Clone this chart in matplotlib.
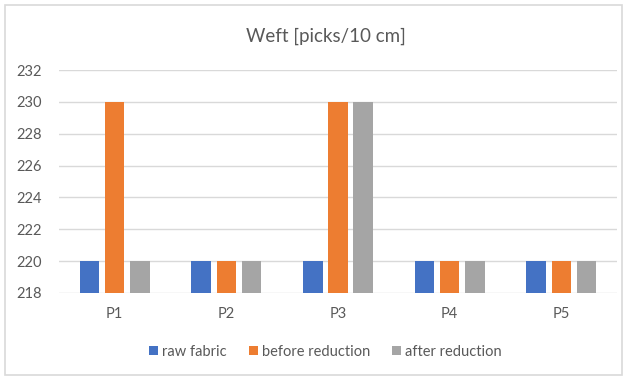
import matplotlib
matplotlib.use("Agg")
import matplotlib.pyplot as plt
import numpy as np
from matplotlib.patches import Rectangle

categories = ["P1", "P2", "P3", "P4", "P5"]
raw_fabric = [220, 220, 220, 220, 220]
before_reduction = [230, 220, 230, 220, 220]
after_reduction = [220, 220, 230, 220, 220]
series_names = ["raw fabric", "before reduction", "after reduction"]
colors = ["#4472C4", "#ED7D31", "#A5A5A5"]
yticks = [218, 220, 222, 224, 226, 228, 230, 232]

plt.rcParams['font.family'] = ['Lato', 'DejaVu Sans']

fig = plt.figure(figsize=(6.26, 3.79), dpi=100)
fig.patches.append(Rectangle((0.008, 0.01), 0.986, 0.978, transform=fig.transFigure,
                             fill=False, edgecolor="#D9D9D9", linewidth=1.2))
ax = fig.add_axes([0.094, 0.227, 0.892, 0.588])

x = np.arange(len(categories))
w = 0.175
off = 0.225
base = 218
for i, (vals, name, c) in enumerate(zip([raw_fabric, before_reduction, after_reduction], series_names, colors)):
    ax.bar(x + (i - 1) * off, np.array(vals) - base, bottom=base, width=w, color=c, label=name, zorder=3)

ax.set_xlim(-0.5, len(categories) - 0.5)
ax.set_ylim(218, 232)
ax.set_yticks(yticks)
ax.set_xticks(x)
ax.set_xticklabels(categories)
ax.grid(axis='y', color="#D9D9D9", linewidth=1, zorder=0)
for s in ax.spines.values():
    s.set_visible(False)
ax.tick_params(axis='both', length=0, labelsize=10.5, colors="#595959")
ax.tick_params(axis='x', pad=10)
ax.tick_params(axis='y', pad=12)

fig.text(0.52, 0.905, "Weft [picks/10 cm]", ha='center', va='center', fontsize=13.5, color="#595959")
fig.legend(loc='center', bbox_to_anchor=(0.52, 0.072), ncol=3, frameon=False, fontsize=10.5,
           handlelength=0.6, handleheight=0.6, handletextpad=0.3, columnspacing=1.5,
           labelcolor="#595959")

fig.savefig("out.png", dpi=100)
